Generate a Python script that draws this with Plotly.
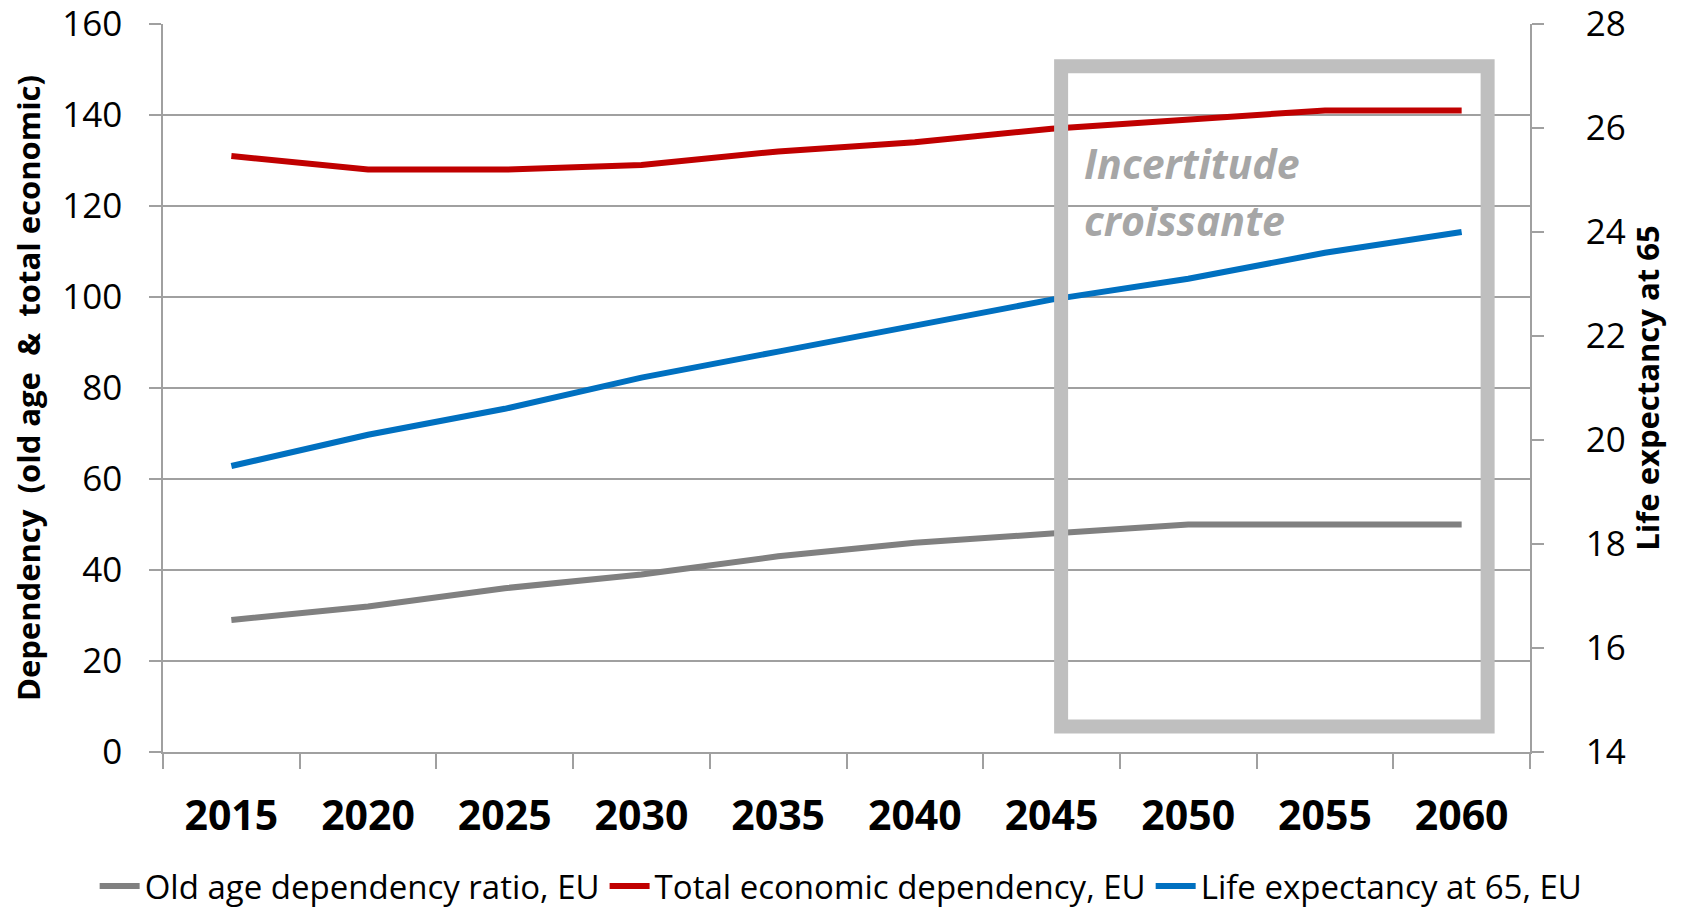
import plotly.graph_objects as go

years = ["2015", "2020", "2025", "2030", "2035", "2040", "2045", "2050", "2055", "2060"]
old_age_dependency = [29, 32, 36, 39, 43, 46, 48, 50, 50, 50]
total_economic_dependency = [131, 128, 128, 129, 132, 134, 137, 139, 141, 141]
life_expectancy_65 = [19.5, 20.1, 20.6, 21.2, 21.7, 22.2, 22.7, 23.1, 23.6, 24.0]

series_names = ["Old age dependency ratio, EU", "Total economic dependency, EU", "Life expectancy at 65, EU"]
series_colors = ["#808080", "#C00000", "#0070C0"]

left_ticks = [0, 20, 40, 60, 80, 100, 120, 140, 160]
right_ticks = [14, 16, 18, 20, 22, 24, 26, 28]

left_title = "Dependency\u00a0\u00a0(old age\u00a0\u00a0&\u00a0\u00a0total economic)"
right_title = "Life expectancy at 65"
box_text = ["Incertitude", "croissante"]

FONT = "Open Sans, Lato, DejaVu Sans, sans-serif"
AX = "#A0A0A0"

fig = go.Figure()
fig.add_trace(go.Scatter(x=years, y=old_age_dependency, name=series_names[0], mode="lines",
                         line=dict(color=series_colors[0], width=6)))
fig.add_trace(go.Scatter(x=years, y=total_economic_dependency, name=series_names[1], mode="lines",
                         line=dict(color=series_colors[1], width=6)))
fig.add_trace(go.Scatter(x=years, y=life_expectancy_65, name=series_names[2], mode="lines",
                         line=dict(color=series_colors[2], width=6), yaxis="y2"))

fig.update_layout(
    width=1681, height=909, autosize=False,
    margin=dict(l=163, r=151, t=24, b=157, autoexpand=False),
    paper_bgcolor="white", plot_bgcolor="white",
    font=dict(family=FONT, color="black"),
    xaxis=dict(type="category", categoryorder="array", categoryarray=years, range=[-0.5, 9.5],
               tickson="boundaries", ticks="outside", ticklen=15, tickcolor=AX, tickwidth=1.5,
               showline=True, linecolor=AX, linewidth=1.5, showgrid=False, zeroline=False,
               tickfont=dict(family=FONT, size=41, color="black", weight="bold"),
               ticklabelstandoff=27, automargin=False),
    yaxis=dict(range=[0, 160], tickmode="array", tickvals=left_ticks, showgrid=True,
               gridcolor=AX, gridwidth=1.5,
               ticks="outside", ticklen=12, tickcolor=AX, tickwidth=1.5,
               showline=True, linecolor=AX, linewidth=1.5, zeroline=False,
               tickfont=dict(family=FONT, size=35, color="black"), ticklabelstandoff=20,
               ticklabeloverflow="allow", automargin=False,
               title=dict(text=left_title, font=dict(family=FONT, size=31, color="black", weight="bold"),
                          standoff=12)),
    yaxis2=dict(range=[14, 28], tickmode="array", tickvals=right_ticks, overlaying="y", side="right",
                showgrid=False,
                ticks="outside", ticklen=12, tickcolor=AX, tickwidth=1.5,
                showline=True, linecolor=AX, linewidth=1.5, zeroline=False,
                tickfont=dict(family=FONT, size=35, color="black"), ticklabelstandoff=35,
                ticklabeloverflow="allow", automargin=False,
                title=dict(text=right_title, font=dict(family=FONT, size=31, color="black", weight="bold"),
                           standoff=10)),
    legend=dict(orientation="h", x=-0.05, xanchor="left", y=-0.184, yanchor="middle",
                font=dict(family=FONT, size=33, color="black"), itemwidth=40,
                traceorder="normal", bgcolor="rgba(0,0,0,0)"),
    showlegend=True,
)

fig.add_shape(type="rect", xref="x", yref="y", x0=6.07, x1=9.19, y0=5.6, y1=150.7,
              line=dict(color="#BFBFBF", width=14), fillcolor="rgba(0,0,0,0)", layer="above")

fig.add_annotation(x=6.22, y=129.5, xref="x", yref="y", text=box_text[0], showarrow=False,
                   xanchor="left", yanchor="middle",
                   font=dict(family=FONT, size=41, color="#A6A6A6", weight="bold", style="italic"))
fig.add_annotation(x=6.22, y=117, xref="x", yref="y", text=box_text[1], showarrow=False,
                   xanchor="left", yanchor="middle",
                   font=dict(family=FONT, size=41, color="#A6A6A6", weight="bold", style="italic"))

fig.write_html("out.html", post_script="document.body.style.margin='0';",
               config={"displayModeBar": False})
